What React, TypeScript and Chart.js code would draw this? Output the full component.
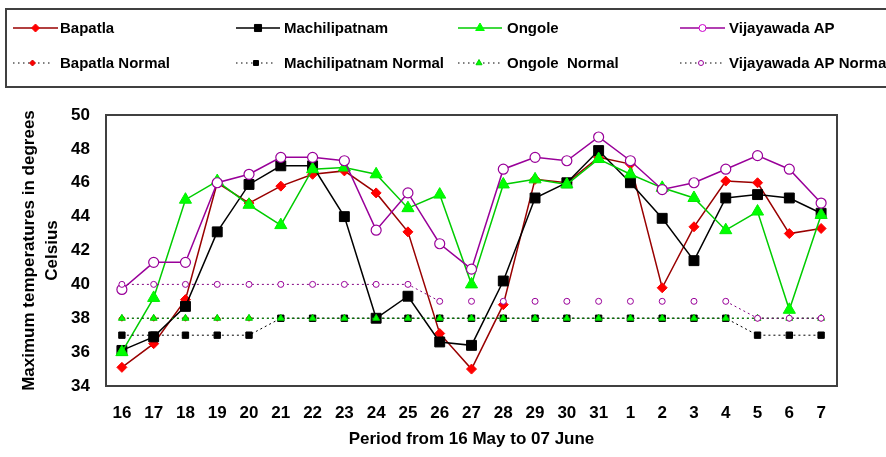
import React, { useEffect, useRef } from 'react';
import { Chart, registerables } from 'chart.js';

Chart.register(...registerables);

const days = ['16', '17', '18', '19', '20', '21', '22', '23', '24', '25', '26', '27', '28', '29', '30', '31', '1', '2', '3', '4', '5', '6', '7'];

const bapatla = [35.1, 36.5, 39.1, 46.0, 44.8, 45.8, 46.5, 46.7, 45.4, 43.1, 37.1, 35.0, 38.8, 46.2, 46.0, 47.5, 47.1, 39.8, 43.4, 46.1, 46.0, 43.0, 43.3];
const machilipatnam = [36.1, 36.9, 38.7, 43.1, 45.9, 47.0, 47.0, 44.0, 38.0, 39.3, 36.6, 36.4, 40.2, 45.1, 46.0, 47.9, 46.0, 43.9, 41.4, 45.1, 45.3, 45.1, 44.2];
const ongole = [36.0, 39.2, 45.0, 46.1, 44.7, 43.5, 46.8, 46.9, 46.5, 44.5, 45.3, 40.0, 45.9, 46.2, 45.9, 47.4, 46.5, 45.7, 45.1, 43.2, 44.3, 38.5, 44.1];
const vijayawada = [39.7, 41.3, 41.3, 46.0, 46.5, 47.5, 47.5, 47.3, 43.2, 45.4, 42.4, 40.9, 46.8, 47.5, 47.3, 48.7, 47.3, 45.6, 46.0, 46.8, 47.6, 46.8, 44.8];

const bapatlaNormal = [38, 38, 38, 38, 38, 38, 38, 38, 38, 38, 38, 38, 38, 38, 38, 38, 38, 38, 38, 38, 38, 38, 38];
const machilipatnamNormal = [37, 37, 37, 37, 37, 38, 38, 38, 38, 38, 38, 38, 38, 38, 38, 38, 38, 38, 38, 38, 37, 37, 37];
const ongoleNormal = [38, 38, 38, 38, 38, 38, 38, 38, 38, 38, 38, 38, 38, 38, 38, 38, 38, 38, 38, 38, 38, 38, 38];
const vijayawadaNormal = [40, 40, 40, 40, 40, 40, 40, 40, 40, 40, 39, 39, 39, 39, 39, 39, 39, 39, 39, 39, 38, 38, 38];

const FONT = '"Liberation Sans", Arial, sans-serif';

function drawMarker(ctx: CanvasRenderingContext2D, style: string, x: number, y: number, r: number, fill: string, stroke: string) {
  ctx.save();
  ctx.beginPath();
  ctx.setLineDash([]);
  ctx.lineWidth = 1;
  if (style === 'rectRot') {
    ctx.moveTo(x, y - r);
    ctx.lineTo(x + r, y);
    ctx.lineTo(x, y + r);
    ctx.lineTo(x - r, y);
    ctx.closePath();
  } else if (style === 'rect') {
    const s = r * Math.SQRT1_2;
    ctx.rect(x - s, y - s, 2 * s, 2 * s);
  } else if (style === 'triangle') {
    ctx.moveTo(x, y - r);
    ctx.lineTo(x + r * 0.866, y + r / 2);
    ctx.lineTo(x - r * 0.866, y + r / 2);
    ctx.closePath();
  } else {
    ctx.arc(x, y, r, 0, Math.PI * 2);
  }
  ctx.fillStyle = fill;
  ctx.fill();
  ctx.strokeStyle = stroke;
  ctx.stroke();
  ctx.restore();
}

type LegendItem = { text: string; x0: number; x1: number; tx: number; row: number; line: string; dash: number[]; style: string; r: number; fill: string; stroke: string };

const legendItems: LegendItem[] = [
  { text: 'Bapatla', x0: 13, x1: 58, tx: 60, row: 0, line: '#990000', dash: [], style: 'rectRot', r: 4, fill: '#ff0000', stroke: '#ff0000' },
  { text: 'Machilipatnam', x0: 236, x1: 280, tx: 284, row: 0, line: '#000000', dash: [], style: 'rect', r: 5, fill: '#000000', stroke: '#000000' },
  { text: 'Ongole', x0: 458, x1: 502, tx: 507, row: 0, line: '#00cc00', dash: [], style: 'triangle', r: 5, fill: '#00ff00', stroke: '#00ff00' },
  { text: 'Vijayawada AP', x0: 680, x1: 725, tx: 729, row: 0, line: '#990099', dash: [], style: 'circle', r: 3.5, fill: '#ffffff', stroke: '#cc00cc' },
  { text: 'Bapatla Normal', x0: 13, x1: 52, tx: 60, row: 1, line: '#000000', dash: [1.5, 3.5], style: 'rectRot', r: 3, fill: '#ff0000', stroke: '#cc0000' },
  { text: 'Machilipatnam Normal', x0: 236, x1: 276, tx: 284, row: 1, line: '#000000', dash: [1.5, 3.5], style: 'rect', r: 3.5, fill: '#000000', stroke: '#000000' },
  { text: 'Ongole  Normal', x0: 458, x1: 500, tx: 507, row: 1, line: '#000000', dash: [1.5, 3.5], style: 'triangle', r: 3.5, fill: '#00ff00', stroke: '#00cc00' },
  { text: 'Vijayawada AP Normal', x0: 680, x1: 722, tx: 729, row: 1, line: '#000000', dash: [1.5, 3.5], style: 'circle', r: 2.5, fill: '#ffffff', stroke: '#990099' },
];

const framePlugin = {
  id: 'frame',
  beforeDatasetsDraw(chart: any) {
    const { ctx, chartArea } = chart;
    ctx.save();
    ctx.strokeStyle = '#404040';
    ctx.lineWidth = 2;
    ctx.strokeRect(chartArea.left, chartArea.top, chartArea.right - chartArea.left, chartArea.bottom - chartArea.top);
    ctx.restore();
  },
  afterDraw(chart: any) {
    const ctx: CanvasRenderingContext2D = chart.ctx;
    ctx.save();
    ctx.strokeStyle = '#404040';
    ctx.lineWidth = 2;
    ctx.strokeRect(6, 9, 900, 78);
    ctx.font = 'bold 15px ' + FONT;
    ctx.textBaseline = 'middle';
    ctx.textAlign = 'left';
    for (const it of legendItems) {
      const y = it.row === 0 ? 28 : 63;
      ctx.beginPath();
      ctx.setLineDash(it.dash);
      ctx.strokeStyle = it.line;
      ctx.lineWidth = it.dash.length ? 1 : 1.5;
      ctx.moveTo(it.x0, y);
      ctx.lineTo(it.x1, y);
      ctx.stroke();
      ctx.setLineDash([]);
      drawMarker(ctx, it.style, (it.x0 + it.x1) / 2, y, it.r, it.fill, it.stroke);
      ctx.fillStyle = '#000';
      ctx.fillText(it.text, it.tx, y + 1);
    }
    ctx.restore();
  },
};

export default function App() {
  const ref = useRef<HTMLCanvasElement>(null);
  useEffect(() => {
    document.body.style.margin = '0';
    const tickFont = { family: FONT, size: 17, weight: 'bold' as const };
    const chart = new Chart(ref.current!, {
      type: 'line',
      data: {
        labels: days,
        datasets: [
          { label: 'Bapatla', data: bapatla, borderColor: '#990000', borderWidth: 1.5, pointStyle: 'rectRot', pointRadius: 5, pointBackgroundColor: '#ff0000', pointBorderColor: '#ff0000', pointBorderWidth: 1, tension: 0, order: 8 },
          { label: 'Machilipatnam', data: machilipatnam, borderColor: '#000000', borderWidth: 1.5, pointStyle: 'rect', pointRadius: 7, pointBackgroundColor: '#000000', pointBorderColor: '#000000', pointBorderWidth: 1, tension: 0, order: 7 },
          { label: 'Ongole', data: ongole, borderColor: '#00cc00', borderWidth: 1.5, pointStyle: 'triangle', pointRadius: 7, pointBackgroundColor: '#00ff00', pointBorderColor: '#00ee00', pointBorderWidth: 1, tension: 0, order: 6 },
          { label: 'Vijayawada AP', data: vijayawada, borderColor: '#990099', borderWidth: 1.5, pointStyle: 'circle', pointRadius: 5, pointBackgroundColor: '#ffffff', pointBorderColor: '#990099', pointBorderWidth: 1.2, tension: 0, order: 5 },
          { label: 'Bapatla Normal', data: bapatlaNormal, borderColor: '#000000', borderWidth: 1, borderDash: [2, 3], pointStyle: 'rectRot', pointRadius: 3, pointBackgroundColor: '#ff0000', pointBorderColor: '#ff0000', tension: 0, order: 4 },
          { label: 'Machilipatnam Normal', data: machilipatnamNormal, borderColor: '#000000', borderWidth: 1, borderDash: [2, 3], pointStyle: 'rect', pointRadius: 4.5, pointBackgroundColor: '#000000', pointBorderColor: '#000000', tension: 0, order: 3 },
          { label: 'Ongole  Normal', data: ongoleNormal, borderColor: '#009900', borderWidth: 1, borderDash: [2, 3], pointStyle: 'triangle', pointRadius: 4, pointBackgroundColor: '#00ff00', pointBorderColor: '#00cc00', tension: 0, order: 2 },
          {
            label: 'Vijayawada AP Normal', data: vijayawadaNormal, borderColor: '#800080', borderWidth: 1, borderDash: [2, 3], pointStyle: 'circle', pointRadius: 3, pointBackgroundColor: '#ffffff', pointBorderColor: '#990099', pointBorderWidth: 1, tension: 0, order: 1,
            segment: { borderColor: (c: any) => (c.p0.parsed.y === 39 && c.p1.parsed.y === 39 ? 'rgba(0,0,0,0)' : undefined) },
          },
        ],
      },
      options: {
        animation: false,
        responsive: false,
        events: [],
        layout: { padding: { left: 0, top: 115, right: 49, bottom: 0 } },
        plugins: { legend: { display: false }, tooltip: { enabled: false } },
        scales: {
          x: {
            type: 'category',
            offset: true,
            grid: { display: false, drawTicks: false },
            border: { display: false },
            ticks: { font: tickFont, color: '#000', padding: 17, maxRotation: 0, autoSkip: false },
            title: { display: true, text: 'Period from 16 May to 07 June', color: '#000', font: { family: FONT, size: 17, weight: 'bold' }, padding: { top: 0, bottom: 7 } },
            afterFit: (s: any) => { s.height = 71; },
          },
          y: {
            min: 34,
            max: 50,
            grid: { display: false, drawTicks: false },
            border: { display: false },
            ticks: { stepSize: 2, font: tickFont, color: '#000', padding: 16 },
            title: { display: true, text: ['Maximum temperatures in degrees', 'Celsius'], color: '#000', font: { family: FONT, size: 17, weight: 'bold', lineHeight: 1.35 }, padding: { top: 17.5, bottom: 0 } },
            afterFit: (s: any) => { s.width = 106; },
          },
        },
      },
      plugins: [framePlugin],
    } as any);
    return () => chart.destroy();
  }, []);
  return (
    <div style={{ position: 'absolute', left: 0, top: 0, width: 886, height: 457, background: '#fff' }}>
      <canvas ref={ref} width={886} height={457} style={{ display: 'block', width: 886, height: 457 }} />
    </div>
  );
}
